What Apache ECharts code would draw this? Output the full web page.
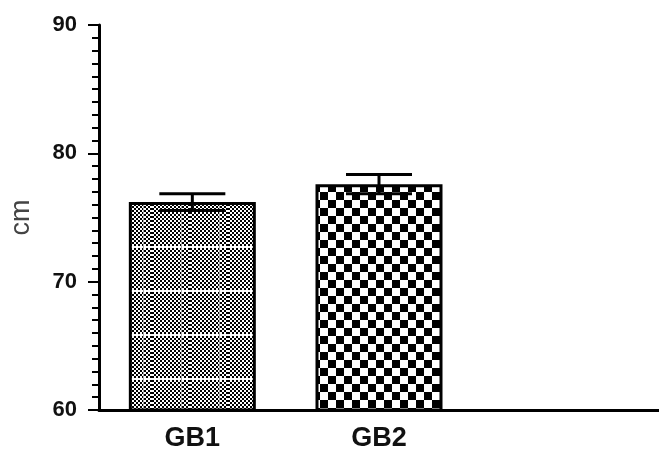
<!DOCTYPE html>
<html>
<head>
<meta charset="utf-8">
<script src="https://cdn.jsdelivr.net/npm/echarts@6/dist/echarts.min.js"></script>
<style>html,body{margin:0;padding:0;background:#fff}#c{width:659px;height:452px}</style>
</head>
<body>
<div id="c"></div>
<script>
var categories = ['GB1', 'GB2', ''];
var means = [76.2, 77.6, null];
var errors = [0.65, 0.75, null];
var yTicks = [60, 70, 80, 90];

function makePattern(kind) {
  var c = document.createElement('canvas');
  var ctx = c.getContext('2d');
  if (kind === 'fine') {
    c.width = 38; c.height = 44;
    ctx.fillStyle = '#fff'; ctx.fillRect(0, 0, 38, 44);
    ctx.fillStyle = '#000';
    for (var y = 0; y < 44; y += 2) {
      for (var x = 0; x < 38; x += 2) {
        if (((x / 2) + (y / 2)) % 2 === 0) ctx.fillRect(x, y, 2, 2);
      }
    }
    ctx.fillStyle = '#fff'; ctx.fillRect(0, 26, 38, 2);
    ctx.fillStyle = '#aaa'; ctx.fillRect(29, 0, 1, 44);
  } else {
    c.width = 16; c.height = 16;
    ctx.fillStyle = '#fff'; ctx.fillRect(0, 0, 16, 16);
    ctx.fillStyle = '#000';
    ctx.fillRect(0, 0, 8, 8); ctx.fillRect(8, 8, 8, 8);
  }
  return c;
}

var chart = echarts.init(document.getElementById('c'), null, {renderer: 'canvas'});
var patterns = [makePattern('fine'), makePattern('coarse')];

chart.setOption({
  animation: false,
  grid: {left: 97, top: 25, width: 573, bottom: 41.5},
  xAxis: {
    type: 'category',
    data: categories,
    axisLine: {lineStyle: {color: '#000', width: 3}},
    axisTick: {show: false},
    axisLabel: {color: '#111', fontSize: 27, fontWeight: 'bold', fontFamily: 'Liberation Sans, Arial', margin: 15}
  },
  yAxis: {
    type: 'value',
    min: yTicks[0], max: yTicks[yTicks.length - 1], interval: 10,
    name: 'cm', nameLocation: 'middle', nameGap: 64, nameRotate: 90,
    nameTextStyle: {color: '#444', fontSize: 27, fontFamily: 'Liberation Sans, Arial'},
    axisLine: {show: true, lineStyle: {color: '#000', width: 3}},
    axisTick: {show: true, length: 11, lineStyle: {color: '#000', width: 2}},
    minorTick: {show: true, splitNumber: 10, length: 7, lineStyle: {color: '#000', width: 2}},
    splitLine: {show: false},
    axisLabel: {color: '#111', fontSize: 22, fontWeight: 'bold', fontFamily: 'Liberation Sans, Arial', margin: 22}
  },
  series: [
    {
      type: 'bar',
      barWidth: 127,
      data: means.map(function (v, i) {
        return {
          value: v,
          itemStyle: {
            color: patterns[i] ? {image: patterns[i], repeat: 'repeat'} : '#fff',
            borderColor: '#000', borderWidth: 3
          }
        };
      })
    },
    {
      type: 'custom',
      data: means.map(function (v, i) { return v == null ? [i, null, null] : [i, v - errors[i], v + errors[i]]; }).filter(function (d) { return d[1] != null; }),
      renderItem: function (params, api) {
        var lo = api.coord([api.value(0), api.value(1)]);
        var hi = api.coord([api.value(0), api.value(2)]);
        var hw = 33;
        var st = {stroke: '#000', lineWidth: 3};
        return {
          type: 'group',
          children: [
            {type: 'line', shape: {x1: hi[0], y1: hi[1], x2: lo[0], y2: lo[1]}, style: st},
            {type: 'line', shape: {x1: hi[0] - hw, y1: hi[1], x2: hi[0] + hw, y2: hi[1]}, style: st},
            {type: 'line', shape: {x1: lo[0] - hw, y1: lo[1], x2: lo[0] + hw, y2: lo[1]}, style: st}
          ]
        };
      },
      encode: {x: 0, y: [1, 2]},
      z: 5
    }
  ]
});
</script>
</body>
</html>
